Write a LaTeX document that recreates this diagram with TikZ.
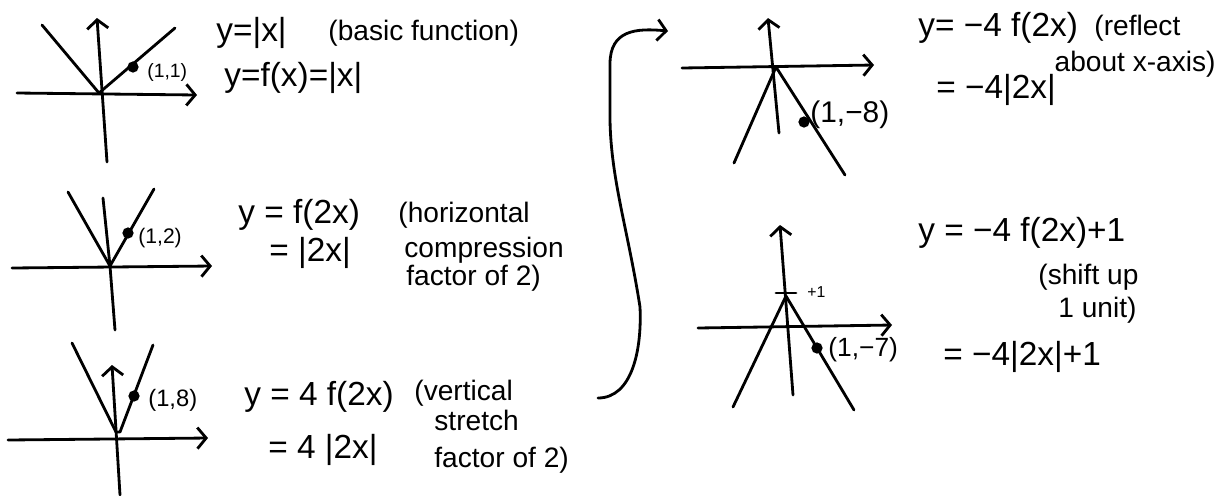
\documentclass[tikz,border=0pt]{standalone}
\usepackage{fontspec}
\setmainfont{Liberation Sans}
\usetikzlibrary{arrows.meta}

\begin{document}
\begin{tikzpicture}[x=0.02cm,y=-0.02cm,line width=1.6pt,line cap=round,line join=round,
  axis/.style={-{Straight Barb[length=5pt,width=12pt]}},
  eqn/.style={font=\fontsize{19}{22}\selectfont,anchor=west,inner sep=0pt},
  note/.style={font=\fontsize{16}{19}\selectfont,anchor=west,inner sep=0pt},
  ptlbl/.style={font=\fontsize{#1}{#1}\selectfont,anchor=west,inner sep=0pt}]
  \useasboundingbox (0,0) rectangle (1220,495);
  % graph 1: y=|x|
  \draw[axis] (17,93) -- (197,95);
  \draw[axis] (107,162) -- (97,18);
  \draw (42,25) -- (99,93) -- (175,28);
  \fill (133,67) circle (3.2pt);
  \node[ptlbl=11] (p1) at (146,72) {(1,1)};
  \node[eqn] (e1a) at (215,33) {y=|x|};
  \node[note] (e1b) at (327,33) {(basic function)};
  \node[eqn] (e1c) at (223,78) {y=f(x)=|x|};
  % graph 2: horizontal compression
  \draw[axis] (12,268) -- (212,266);
  \draw (103,198) -- (110,266) -- (115,330);
  \draw (68,192) -- (110,266) -- (154,189);
  \fill (128,233) circle (3.2pt);
  \node[ptlbl=12] (p2) at (137,238) {(1,2)};
  \node[eqn] (e2a) at (237,215) {y = f(2x)};
  \node[note] (e2b) at (397,215) {(horizontal};
  \node[eqn] (e2c) at (268,253) {= |2x|};
  \node[note] (e2d) at (403,250) {compression};
  \node[note] (e2e) at (405,278) {factor of 2)};
  % graph 3: vertical stretch
  \draw[axis] (8,440) -- (208,438);
  \draw[axis] (120,495) -- (112,365);
  \draw (72,343) -- (116,432) -- (120,432) -- (153,345);
  \fill (134,396) circle (3.2pt);
  \node[ptlbl=13.5] (p3) at (147,400) {(1,8)};
  \node[eqn] (e3a) at (243,397) {y = 4 f(2x)};
  \node[note] (e3b) at (413,393) {(vertical};
  \node[note] (e3c) at (433,420) {stretch};
  \node[eqn] (e3d) at (267,450) {= 4 |2x|};
  \node[note] (e3e) at (433,460) {factor of 2)};
  % connector to the right column
  \coordinate (cstart) at (598,398);
  \coordinate (cend) at (668,31);
  \draw[-{Straight Barb[length=5pt,width=12pt]}] (cstart) .. controls (632,398) and (642,350) .. (640,307)
    .. controls (628,230) and (611,180) .. (610,120) -- (610,64)
    .. controls (610,30) and (636,28) .. (cend);
  % graph 4: reflection
  \draw[axis] (682,68) -- (874,65);
  \draw[axis] (779,133) -- (768,18);
  \draw (734,163) -- (776,67) -- (845,175);
  \fill (804,122) circle (3.2pt);
  \node[ptlbl=17] (p4) at (809,115) {(1,−8)};
  \node[eqn] (e4a) at (917,28) {y= −4 f(2x)};
  \node[note] (e4b) at (1093,28) {(reflect};
  \node[note,anchor=east] (e4c) at (1217,64) {about x-axis)};
  \node[eqn] (e4d) at (935,90) {= −4|2x|};
  % graph 5: shift up
  \draw[axis] (698,328) -- (892,325);
  \draw[axis] (793,395) -- (780,225);
  \draw (776,293) -- (796,293);
  \draw (733,407) -- (786,296) -- (854,410);
  \fill (817,348) circle (3.2pt);
  \node[ptlbl=9] (p5a) at (806,292) {+1};
  \node[ptlbl=15] (p5b) at (827,350) {(1,−7)};
  \node[eqn] (e5a) at (917,233) {y = −4 f(2x)+1};
  \node[note] (e5b) at (1037,277) {(shift up};
  \node[note] (e5c) at (1057,310) {1 unit)};
  \node[eqn] (e5d) at (942,357) {= −4|2x|+1};
\end{tikzpicture}
\end{document}
